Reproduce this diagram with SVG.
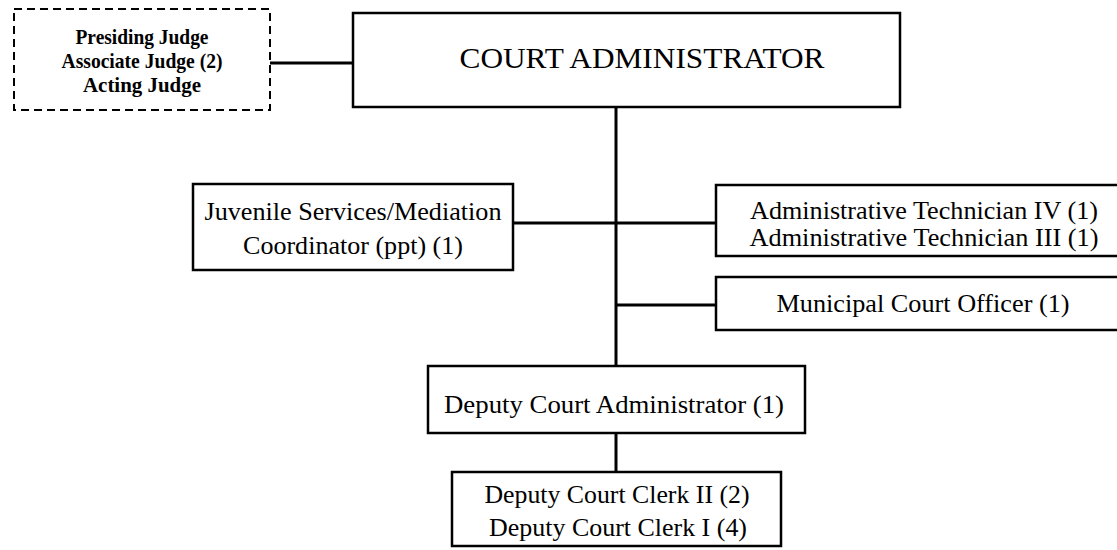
<svg xmlns="http://www.w3.org/2000/svg" width="1117" height="550" viewBox="0 0 1117 550">
<style>
.box{fill:#fff;stroke:#000;stroke-width:2.5}
.dash{fill:#fff;stroke:#000;stroke-width:2;stroke-dasharray:8 5}
.con{stroke:#000;stroke-width:3;fill:none}
text{font-family:"Liberation Serif","Times New Roman",serif;fill:#000;text-anchor:middle}
.t{font-size:25px}
.j{font-size:21px;font-weight:bold}
.big{font-size:29px}
</style>
<rect width="1117" height="550" fill="#fff"/>
<g id="connectors">
<line class="con" x1="270" y1="63" x2="353" y2="63"/>
<line class="con" x1="616" y1="107" x2="616" y2="366"/>
<line class="con" x1="513" y1="223" x2="716" y2="223"/>
<line class="con" x1="616" y1="305" x2="716" y2="305"/>
<line class="con" x1="616" y1="433" x2="616" y2="472"/>
</g>
<g id="judges">
<rect class="dash" x="14" y="9" width="256" height="101"/>
<text class="j" x="142" y="44" textLength="133" lengthAdjust="spacingAndGlyphs">Presiding Judge</text>
<text class="j" x="142" y="68" textLength="161" lengthAdjust="spacingAndGlyphs">Associate Judge (2)</text>
<text class="j" x="142" y="92" textLength="118" lengthAdjust="spacingAndGlyphs">Acting Judge</text>
</g>
<g id="court-administrator">
<rect class="box" x="353" y="13" width="547" height="94"/>
<text class="big" x="642" y="68" textLength="365" lengthAdjust="spacingAndGlyphs">COURT ADMINISTRATOR</text>
</g>
<g id="juvenile">
<rect class="box" x="193" y="184" width="320" height="86"/>
<text class="t" x="353" y="220" textLength="297" lengthAdjust="spacingAndGlyphs">Juvenile Services/Mediation</text>
<text class="t" x="353" y="254" textLength="220" lengthAdjust="spacingAndGlyphs">Coordinator (ppt) (1)</text>
</g>
<g id="admin-tech">
<rect class="box" x="716" y="185" width="420" height="71"/>
<text class="t" x="924" y="219" textLength="348" lengthAdjust="spacingAndGlyphs">Administrative Technician IV (1)</text>
<text class="t" x="924" y="246" textLength="349" lengthAdjust="spacingAndGlyphs">Administrative Technician III (1)</text>
</g>
<g id="court-officer">
<rect class="box" x="716" y="277" width="420" height="53"/>
<text class="t" x="923" y="312" textLength="293" lengthAdjust="spacingAndGlyphs">Municipal Court Officer (1)</text>
</g>
<g id="deputy-administrator">
<rect class="box" x="428" y="366" width="377" height="67"/>
<text class="t" x="614" y="413" textLength="340" lengthAdjust="spacingAndGlyphs">Deputy Court Administrator (1)</text>
</g>
<g id="clerks">
<rect class="box" x="452" y="472" width="329" height="74"/>
<text class="t" x="617" y="503" textLength="265" lengthAdjust="spacingAndGlyphs">Deputy Court Clerk II (2)</text>
<text class="t" x="618" y="536" textLength="258" lengthAdjust="spacingAndGlyphs">Deputy Court Clerk I (4)</text>
</g>
</svg>
